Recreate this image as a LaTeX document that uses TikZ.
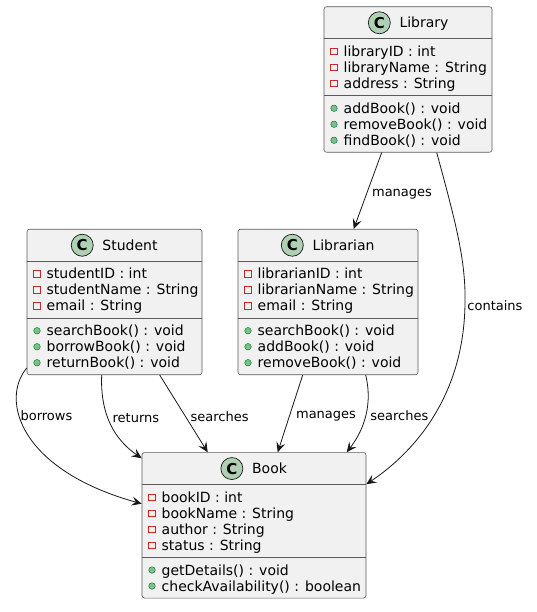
\documentclass[tikz,border=0pt]{standalone}
\usepackage{fontspec}
\setmainfont{DejaVu Sans}
\usetikzlibrary{arrows.meta}
\definecolor{boxfill}{HTML}{F1F1F1}
\definecolor{boxline}{HTML}{181818}
\definecolor{boxedge}{HTML}{5A5A5A}
\definecolor{spotfill}{HTML}{ADD1B2}
\definecolor{privred}{HTML}{C82930}
\definecolor{pubfill}{HTML}{84BE84}
\definecolor{publine}{HTML}{038048}
\tikzset{
  classbox/.style={rectangle,draw=boxedge,fill=boxfill,rounded corners=2.5pt,line width=.6pt,minimum height=145.5pt,inner sep=0pt},
  divider/.style={draw=boxedge,line width=.6pt},
  spot/.style={circle,draw=boxline,fill=spotfill,line width=.7pt,minimum size=22pt,inner sep=0pt,font=\fontsize{15}{15}\selectfont\bfseries},
  classtitle/.style={inner sep=0pt,anchor=base,font=\fontsize{14}{16}\selectfont},
  member/.style={inner sep=0pt,anchor=base west,font=\fontsize{14}{16}\selectfont},
  priv/.style={rectangle,draw=privred,line width=.6pt,minimum size=6.5pt,inner sep=0pt},
  pub/.style={circle,draw=publine,fill=pubfill,line width=.5pt,minimum size=6.5pt,inner sep=0pt},
  rel/.style={draw=boxline,line width=.8pt,-{Stealth[length=10pt,width=9pt,inset=4pt]}},
  lbl/.style={inner sep=0pt,anchor=west,yshift=-3pt,font=\fontsize{13}{15}\selectfont}
}
\begin{document}
\begin{tikzpicture}[x=1pt,y=-1pt]
    \useasboundingbox (0,0) rectangle (536,612);

    % Library
    \node[classbox,minimum width=168pt] (library) at (408,79.5) {};
    \node[classtitle] (library-name) at (424,27.85) {Library};
    \node[spot] (library-spot) at ([xshift=-20pt,yshift=5.1pt]library-name.base west) {C};
    \draw[divider] ([yshift=-32pt]library.north west) -- ([yshift=-32pt]library.north east);
    \draw[divider] ([yshift=-89pt]library.north west) -- ([yshift=-89pt]library.north east);
    \foreach \m [count=\i] in {libraryID : int, libraryName : String, address : String} {
      \node[priv] (library-ai\i) at (334,35.25+16*\i) {};
      \node[member] (library-a\i) at (343.5,40.45+16*\i) {\m};
    }
    \foreach \m [count=\i] in {addBook() : void, removeBook() : void, findBook() : void} {
      \node[pub] (library-mi\i) at (334,92.25+16*\i) {};
      \node[member] (library-m\i) at (343.5,97.45+16*\i) {\m};
    }

    % Student
    \node[classbox,minimum width=175pt] (student) at (114.5,302) {};
    \node[classtitle] (student-name) at (130,250.35) {Student};
    \node[spot] (student-spot) at ([xshift=-20pt,yshift=5.1pt]student-name.base west) {C};
    \draw[divider] ([yshift=-32pt]student.north west) -- ([yshift=-32pt]student.north east);
    \draw[divider] ([yshift=-89pt]student.north west) -- ([yshift=-89pt]student.north east);
    \foreach \m [count=\i] in {studentID : int, studentName : String, email : String} {
      \node[priv] (student-ai\i) at (37,257.75+16*\i) {};
      \node[member] (student-a\i) at (46.5,262.95+16*\i) {\m};
    }
    \foreach \m [count=\i] in {searchBook() : void, borrowBook() : void, returnBook() : void} {
      \node[pub] (student-mi\i) at (37,314.75+16*\i) {};
      \node[member] (student-m\i) at (46.5,319.95+16*\i) {\m};
    }

    % Librarian
    \node[classbox,minimum width=180pt] (librarian) at (328,302) {};
    \node[classtitle] (librarian-name) at (343.5,250.35) {Librarian};
    \node[spot] (librarian-spot) at ([xshift=-20pt,yshift=5.1pt]librarian-name.base west) {C};
    \draw[divider] ([yshift=-32pt]librarian.north west) -- ([yshift=-32pt]librarian.north east);
    \draw[divider] ([yshift=-89pt]librarian.north west) -- ([yshift=-89pt]librarian.north east);
    \foreach \m [count=\i] in {librarianID : int, librarianName : String, email : String} {
      \node[priv] (librarian-ai\i) at (248,257.75+16*\i) {};
      \node[member] (librarian-a\i) at (257.5,262.95+16*\i) {\m};
    }
    \foreach \m [count=\i] in {searchBook() : void, addBook() : void, removeBook() : void} {
      \node[pub] (librarian-mi\i) at (248,314.75+16*\i) {};
      \node[member] (librarian-m\i) at (257.5,319.95+16*\i) {\m};
    }

    % Book
    \node[classbox,minimum width=224pt] (book) at (254,525.3) {};
    \node[classtitle] (book-name) at (269.5,473.65) {Book};
    \node[spot] (book-spot) at ([xshift=-20pt,yshift=5.1pt]book-name.base west) {C};
    \draw[divider] ([yshift=-32pt]book.north west) -- ([yshift=-32pt]book.north east);
    \draw[divider] ([yshift=-105pt]book.north west) -- ([yshift=-105pt]book.north east);
    \foreach \m [count=\i] in {bookID : int, bookName : String, author : String, status : String} {
      \node[priv] (book-ai\i) at (152,481.05+16*\i) {};
      \node[member] (book-a\i) at (161.5,486.25+16*\i) {\m};
    }
    \foreach \m [count=\i] in {getDetails() : void, checkAvailability() : boolean} {
      \node[pub] (book-mi\i) at (152,554.05+16*\i) {};
      \node[member] (book-m\i) at (161.5,559.25+16*\i) {\m};
    }

    % Relations
    \draw[rel] ([xshift=58pt]library.south west) -- node[lbl,xshift=4pt] {manages} ([xshift=116pt]librarian.north west);
    \draw[rel] ([xshift=113pt]library.south west) .. controls (455,220) and (466,260) .. (465,303)
      node[lbl,xshift=2pt] {contains} .. controls (464,400) and (410,455) .. ([yshift=-32pt]book.north east);
    \draw[rel] ([yshift=7pt]student.south west) .. controls (0,400) and (20,470) .. ([yshift=-51.5pt]book.north west)
      node[lbl,pos=.35,xshift=2pt] {borrows};
    \draw[rel] ([xshift=75pt]student.south west) .. controls (100,415) and (115,440) .. ([yshift=-6pt]book.north west)
      node[lbl,pos=.38,xshift=5.5pt] {returns};
    \draw[rel] ([xshift=133pt]student.south west) -- node[lbl,xshift=6.5pt] {searches} ([xshift=66pt]book.north west);
    \draw[rel] ([xshift=65pt]librarian.south west) -- node[lbl,xshift=5.5pt] {manages} ([xshift=136pt]book.north west);
    \draw[rel] ([xshift=128pt]librarian.south west) .. controls (374,410) and (360,435) .. ([xshift=205pt]book.north west)
      node[lbl,pos=.4,xshift=3.5pt] {searches};
\end{tikzpicture}
\end{document}
